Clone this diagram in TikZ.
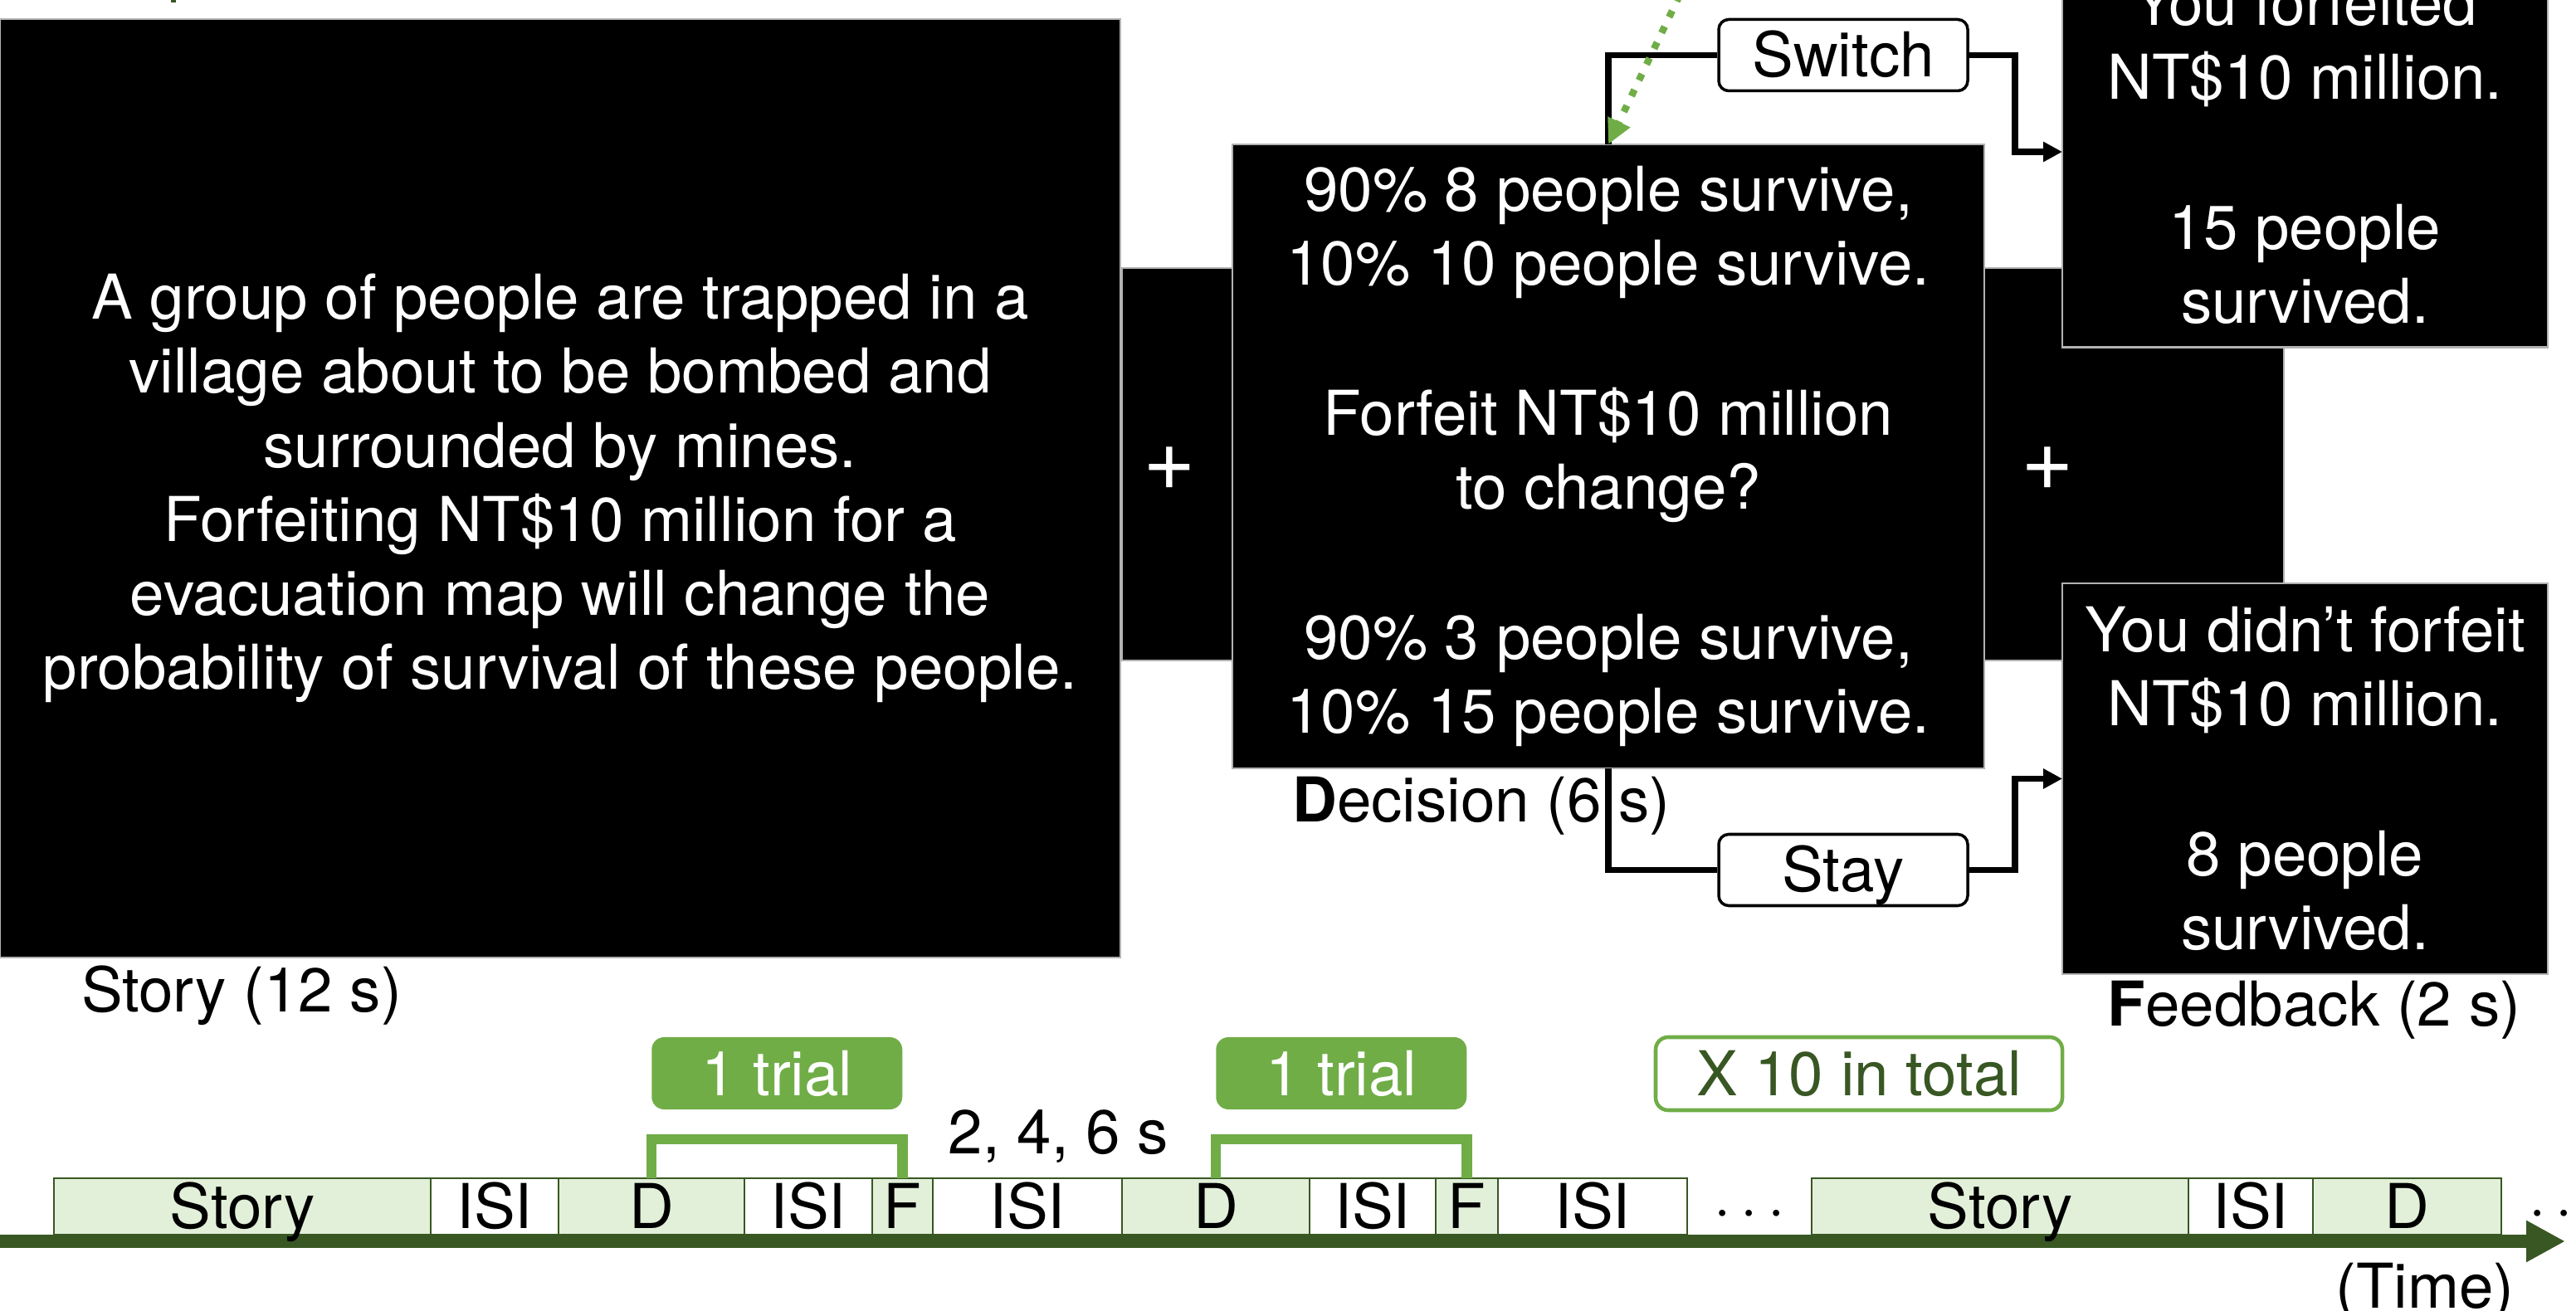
\documentclass[tikz,border=0pt]{standalone}
\usepackage{fontspec}
\setmainfont{TeX Gyre Heros}
\usetikzlibrary{positioning}
\usetikzlibrary{calc}
\usetikzlibrary{arrows.meta}

\definecolor{trialgreen}{HTML}{70AD47}
\definecolor{axisgreen}{HTML}{385723}
\definecolor{cellgreen}{HTML}{E2F0D9}

\tikzset {
  % black screen shown in the scanner
  screen/.style = {
    fill = black,
    draw = gray!60,
    line width = 0.6pt,
    text = white,
    align = center,
    inner sep = 0,
    outer sep = 0
  },
  fixation/.style = {
    screen,
    minimum height = 4.73cm
  },
  % fixation cross
  cross/.style = {
    text = white,
    font = \fontsize{31pt}{31pt}\selectfont
  },
  % response option
  choice/.style = {
    draw = black,
    fill = white,
    line width = 1pt,
    rounded corners = 1.2mm,
    minimum width = 3cm,
    minimum height = 0.86cm,
    text height = 0.53cm,
    text depth = 0cm,
    inner sep = 0
  },
  branch/.style = {
    draw = black,
    line width = 2.2pt
  },
  branch arrow/.style = {
    branch,
    -{Triangle[length=2.3mm,width=2.3mm]}
  },
  hint/.style = {
    draw = trialgreen,
    line width = 2.4pt,
    dash pattern = on 2.4pt off 3.6pt,
    -{Triangle[length=3mm,width=2.8mm]}
  }
}
\tikzset {
  % one event on the time line
  cell/.style = {
    draw = axisgreen,
    line width = 0.8pt,
    minimum height = 0.68cm,
    text height = 0.53cm,
    text depth = 0cm,
    inner sep = 0,
    outer sep = 0
  },
  stim/.style = {
    cell,
    fill = cellgreen
  },
  isi/.style = {
    cell,
    fill = white
  },
  trial/.style = {
    fill = trialgreen,
    text = white,
    rounded corners = 1.5mm,
    minimum width = 3.02cm,
    minimum height = 0.87cm,
    inner sep = 0
  },
  total/.style = {
    draw = trialgreen,
    line width = 1.3pt,
    text = axisgreen,
    rounded corners = 1.5mm,
    minimum width = 4.9cm,
    minimum height = 0.88cm,
    inner sep = 0
  },
  bracket/.style = {
    draw = trialgreen,
    line width = 3.6pt
  },
  time axis/.style = {
    draw = axisgreen,
    line width = 4.6pt,
    -{Triangle[length=4.7mm,width=4.7mm]}
  }
}

\begin{document}
\begin{tikzpicture}[font = \fontsize{21.2pt}{25.4pt}\selectfont]
    \useasboundingbox (0,0) rectangle (31.04,15.79);
    \fill[axisgreen] (2.06,15.76) rectangle (2.12,15.80);

    % screens of one trial
    \node[screen, minimum width=13.5cm, minimum height=11.31cm] (story) at (6.75,9.905)
      {A group of people are trapped in a\\
       village about to be bombed and\\
       surrounded by mines.\\
       Forfeiting NT\$10 million for a\\
       evacuation map will change the\\
       probability of survival of these people.};
    \node[fixation, minimum width=1.6cm] (fix1) at (14.32,10.195) {};
    \node[fixation, minimum width=3.8cm] (fix2) at (25.62,10.195) {};
    \node[screen, minimum width=9.06cm, minimum height=7.52cm] (decision) at (19.38,10.29)
      {90\% 8 people survive,\\
       10\% 10 people survive.\\[26pt]
       Forfeit NT\$10 million\\
       to change?\\[26pt]
       90\% 3 people survive,\\
       10\% 15 people survive.};
    \node[cross] (plus1) at (14.09,10.14) {+};
    \node[cross] (plus2) at (24.67,10.14) {+};
    \node[screen, minimum width=5.85cm, minimum height=4.71cm] (switched) at (27.775,13.96)
      {You forfeited\\
       NT\$10 million.\\[26pt]
       15 people\\
       survived.};
    \node[screen, minimum width=5.85cm, minimum height=4.71cm] (stayed) at (27.775,6.405)
      {You didn’t forfeit\\
       NT\$10 million.\\[26pt]
       8 people\\
       survived.};

    \node[anchor=base] (story-cap) at (2.91,3.59) {Story (12 s)};
    \node[anchor=base] (decision-cap) at (17.85,5.88) {\textbf{D}ecision (6 s)};
    \node[anchor=base] (feedback-cap) at (27.885,3.42) {\textbf{F}eedback (2 s)};

    % the two answers
    \node[choice] (switch) at (22.21,15.125) {Switch};
    \node[choice] (stay) at (22.21,5.305) {Stay};
    \coordinate (switch-bend) at (24.28,15.125);
    \coordinate (stay-bend) at (24.28,5.305);
    \coordinate (hint-start) at (20.24,15.85);

    \draw[branch] (decision.north)
    |- (switch.west);

    \draw[branch arrow] (switch.east)
    -- (switch-bend)
    |- (switched.west);

    \draw[branch] (decision.south)
    |- (stay.west);

    \draw[branch arrow] (stay.east)
    -- (stay-bend)
    |- (stayed.west);

    \draw[hint] (hint-start) -- (decision.north);

    % time line
    \coordinate (time-start) at (0,0.83);
    \coordinate (time-end) at (30.91,0.83);
    \draw[time axis] (time-start) -- (time-end);

    \node[stim, minimum width=4.54cm, anchor=west] (story1) at (0.65,1.25) {Story};
    \node[isi, minimum width=1.54cm] (isi1) [right=0pt of story1] {ISI};
    \node[stim, minimum width=2.24cm] (d1) [right=0pt of isi1] {D};
    \node[isi, minimum width=1.54cm] (isi2) [right=0pt of d1] {ISI};
    \node[stim, minimum width=0.73cm] (f1) [right=0pt of isi2] {F};
    \node[isi, minimum width=2.28cm] (isi3) [right=0pt of f1] {ISI};
    \node[stim, minimum width=2.26cm] (d2) [right=0pt of isi3] {D};
    \node[isi, minimum width=1.52cm] (isi4) [right=0pt of d2] {ISI};
    \node[stim, minimum width=0.75cm] (f2) [right=0pt of isi4] {F};
    \node[isi, minimum width=2.28cm] (isi5) [right=0pt of f2] {ISI};
    \node[stim, minimum width=4.54cm, anchor=west] (story2) at (21.83,1.25) {Story};
    \node[isi, minimum width=1.50cm] (isi6) [right=0pt of story2] {ISI};
    \node[stim, minimum width=2.27cm] (d3) [right=0pt of isi6] {D};
    \node[cell, draw=none] (gap) at ($(isi5.east)!0.5!(story2.west)$) {$\cdots$};
    \node[cell, draw=none] (more) at (30.90,1.25) {$\cdots$};

    \draw[bracket] (d1.north) -- ++(0,0.47) -| (f1.north);
    \draw[bracket] (d2.north) -- ++(0,0.47) -| (f2.north);
    \node[trial] (trial1) at ($(d1.north)!0.5!(f1.north) + (0,1.265)$) {1 trial};
    \node[trial] (trial2) at ($(d2.north)!0.5!(f2.north) + (0,1.265)$) {1 trial};
    \node[total] (total) at (22.40,2.85) {X 10 in total};
    \node[anchor=base] (isi-range) at (12.755,1.89) {2, 4, 6 s};
    \node[anchor=base] (time-label) at (29.22,0.03) {(Time)};
\end{tikzpicture}
\end{document}
